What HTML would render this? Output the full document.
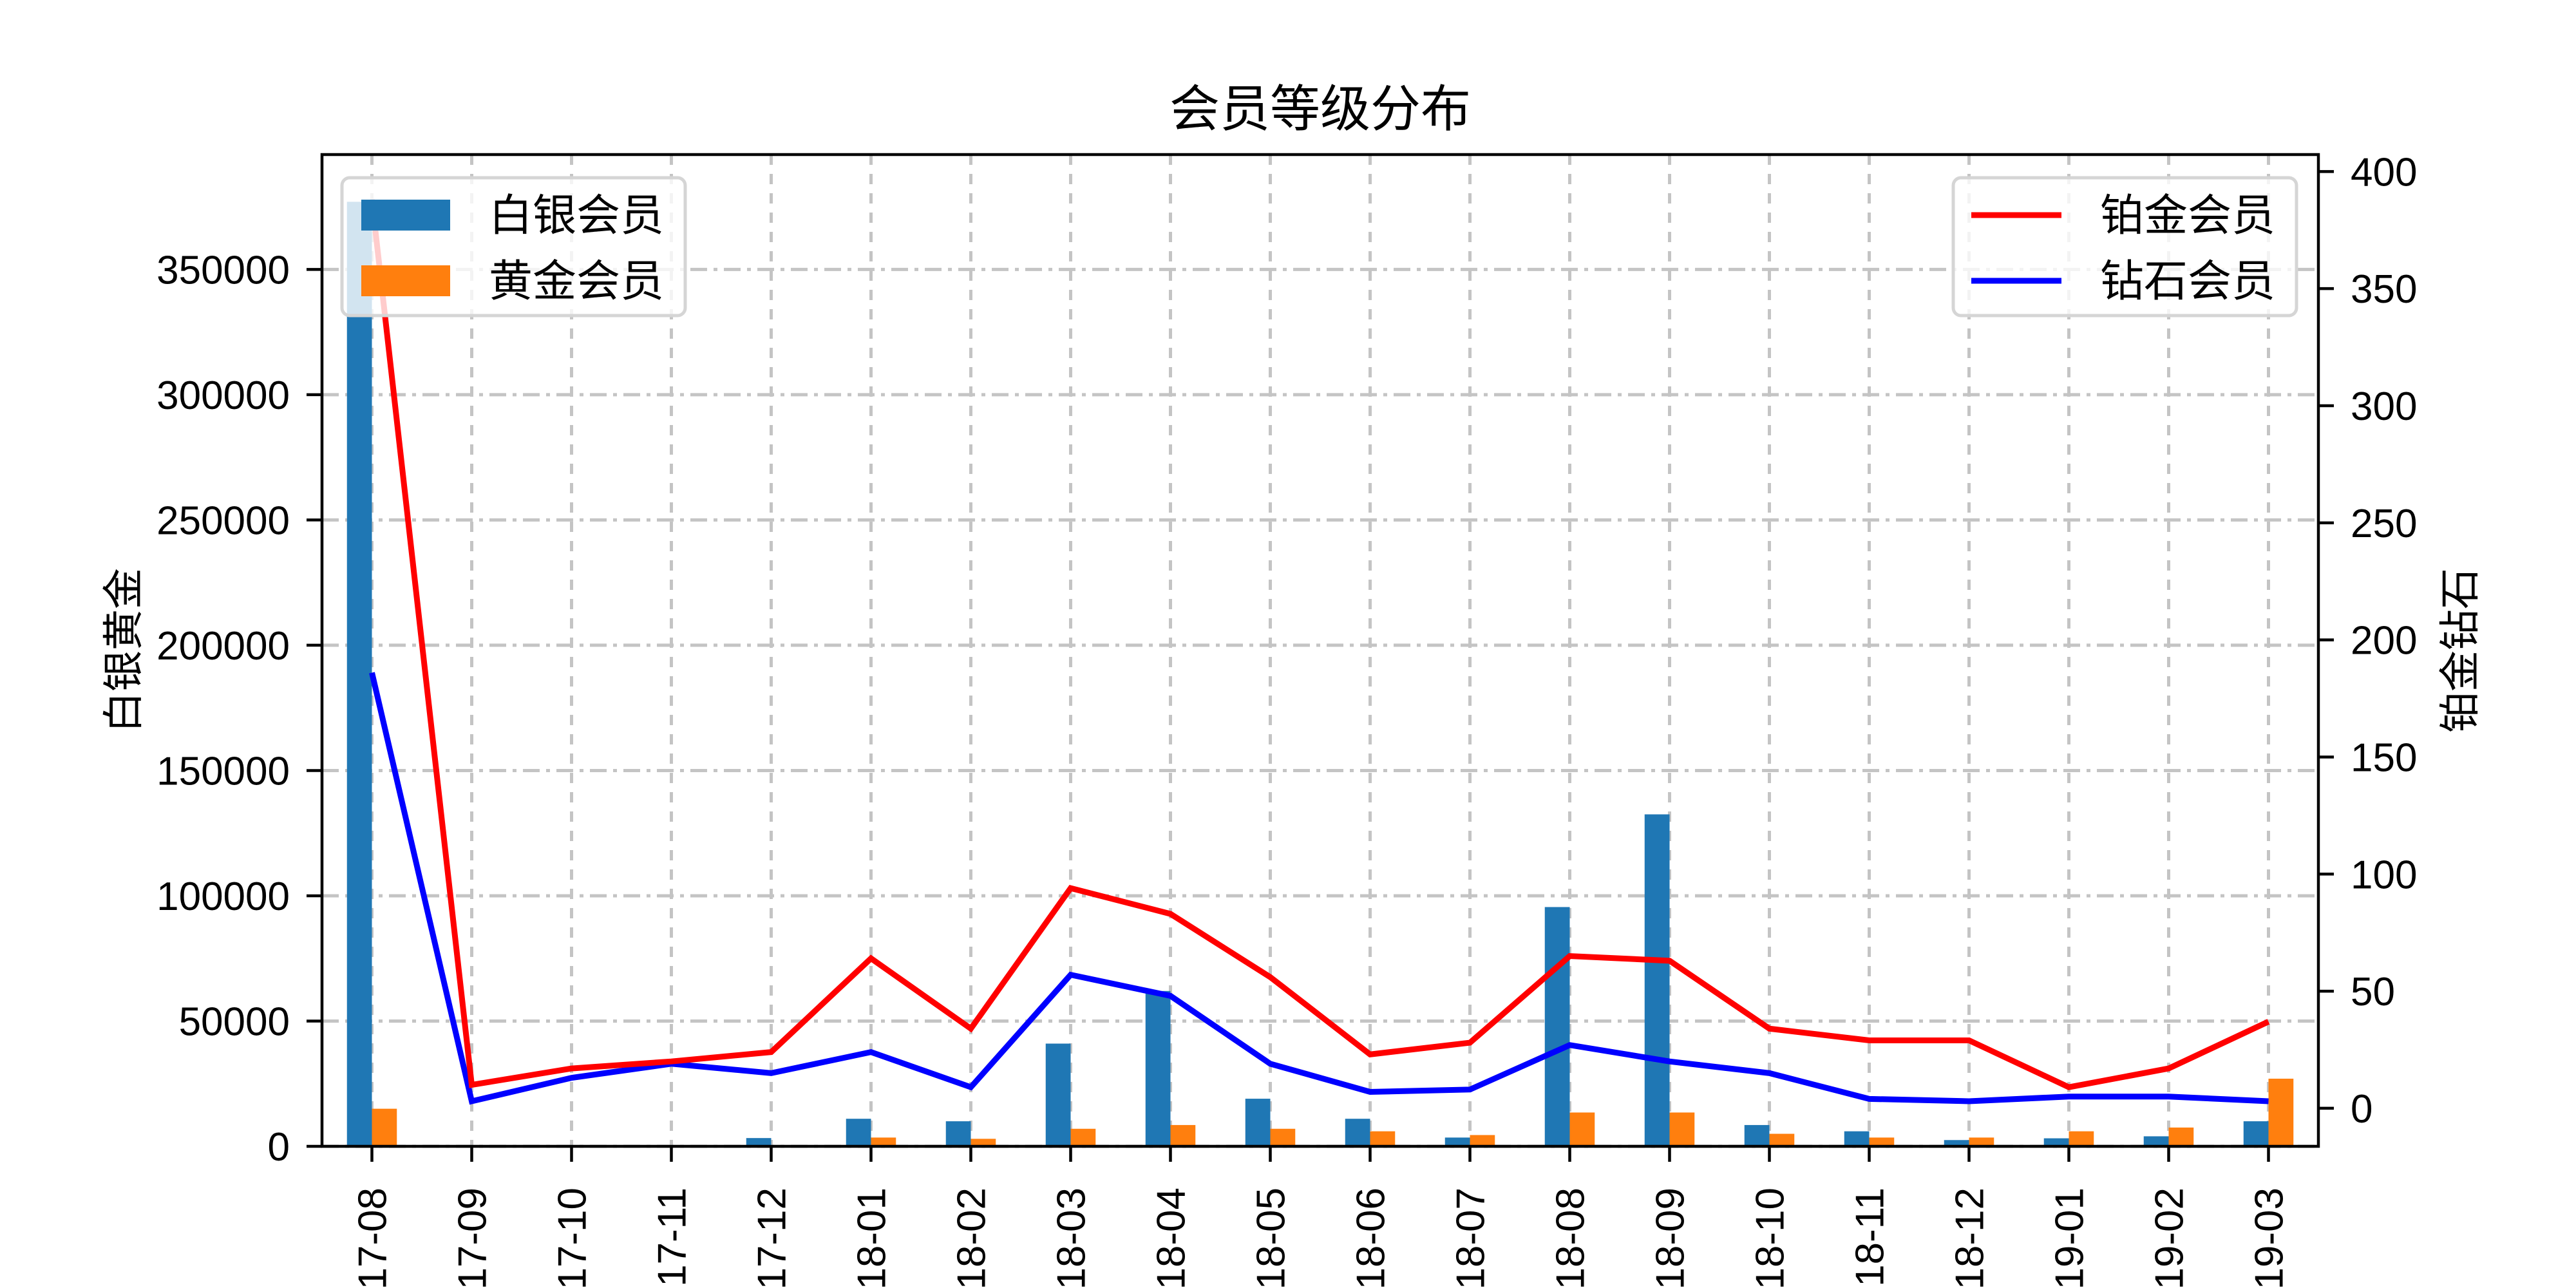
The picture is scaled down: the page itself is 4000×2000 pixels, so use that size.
<!DOCTYPE html>
<html><head><meta charset="utf-8"><style>
html,body{margin:0;padding:0;background:#fff;}
svg{display:block;font-family:"Liberation Sans","Noto Sans CJK SC",sans-serif;}
</style></head><body>
<svg id="chart" width="4000" height="2000" viewBox="0 0 4000 2000" xmlns="http://www.w3.org/2000/svg">
<rect width="4000" height="2000" fill="#fff"/>
<g id="grid"></g><g id="bars"></g><g id="lines"></g><g id="axes"></g><g id="legends"></g>
<text x="2050" y="196" font-size="78" text-anchor="middle">会员等级分布</text>
<text transform="translate(214,1010) rotate(-90)" font-size="64" text-anchor="middle">白银黄金</text>
<text transform="translate(3842,1010) rotate(-90)" font-size="64" text-anchor="middle">铂金钻石</text>
</svg>
<script>
const categories=["2017-08","2017-09","2017-10","2017-11","2017-12","2018-01","2018-02","2018-03","2018-04","2018-05","2018-06","2018-07","2018-08","2018-09","2018-10","2018-11","2018-12","2019-01","2019-02","2019-03"];
const silver=[377000,0,0,500,3300,11000,10000,41000,62000,19000,11000,3500,95500,132500,8500,6000,2500,3200,4000,10000];
const gold=[15000,0,0,0,0,3500,3000,7000,8500,7000,6000,4500,13500,13500,5000,3500,3500,6000,7500,27000];
const platinum=[388,10,17,20,24,64,34,94,83,56,23,28,65,63,34,29,29,9,17,37];
const diamond=[186,3,13,19,15,24,9,57,48,19,7,8,27,20,15,4,3,5,5,3];
const leftTicks=[0,50000,100000,150000,200000,250000,300000,350000];
const rightTicks=[0,50,100,150,200,250,300,350,400];

const L=500,R=3600,T=240,B=1780;
const NS="http://www.w3.org/2000/svg";
const lMax=Math.max(...silver,...gold)*1.05;
const rAll=platinum.concat(diamond);
const rMin0=Math.min(...rAll),rMax0=Math.max(...rAll),pad=(rMax0-rMin0)*0.05;
const rMin=rMin0-pad,rMax=rMax0+pad;
const n=categories.length;
const step=(R-L)/n;
function xs(i){return L+(0.5+i)*step;}
function yl(v){return B-(v/lMax)*(B-T);}
function yr(v){return B-(v-rMin)/(rMax-rMin)*(B-T);}
function mk(tag,attrs,parent){const e=document.createElementNS(NS,tag);for(const k in attrs)e.setAttribute(k,attrs[k]);parent.appendChild(e);return e;}
const grid=document.getElementById('grid'),bars=document.getElementById('bars'),lines=document.getElementById('lines'),axes=document.getElementById('axes'),legends=document.getElementById('legends');
const bw=0.25*step;
categories.forEach((c,i)=>{const g=mk('line',{x1:xs(i),x2:xs(i),y1:T,y2:B,stroke:'#c4c4c4','stroke-width':5,'stroke-dasharray':'16 14'},grid);

});
leftTicks.forEach(t=>{const g=mk('line',{x1:L,x2:R,y1:yl(t),y2:yl(t),stroke:'#c4c4c4','stroke-width':5,'stroke-dasharray':'26 10 6 10'},grid);

});
categories.forEach((c,i)=>{
 const b1=mk('rect',{x:xs(i)-bw,y:yl(silver[i]),width:bw,height:B-yl(silver[i]),fill:'#1f77b4'},bars);
 
 
 const b2=mk('rect',{x:xs(i),y:yl(gold[i]),width:bw,height:B-yl(gold[i]),fill:'#ff7f0e'},bars);
 
 
});
const pd=diamond.map((v,i)=>xs(i)+','+yr(v)).join(' ');
const ld=mk('polyline',{points:pd,fill:'none',stroke:'#0000ff','stroke-width':9,'stroke-linejoin':'miter'},lines);


const pp=platinum.map((v,i)=>xs(i)+','+yr(v)).join(' ');
const lp=mk('polyline',{points:pp,fill:'none',stroke:'#ff0000','stroke-width':9,'stroke-linejoin':'miter'},lines);


const fr=mk('rect',{x:L,y:T,width:R-L,height:B-T,fill:'none',stroke:'#000','stroke-width':4.5},axes);


leftTicks.forEach(t=>{const y=yl(t);
 mk('line',{x1:L-24,x2:L,y1:y,y2:y,stroke:'#000','stroke-width':4.5},axes);
 const tx=mk('text',{x:L-50,y:y+22,'font-size':62,'text-anchor':'end'},axes);tx.textContent=t;
 
 });
rightTicks.forEach(t=>{const y=yr(t);
 mk('line',{x1:R,x2:R+24,y1:y,y2:y,stroke:'#000','stroke-width':4.5},axes);
 const tx=mk('text',{x:R+50,y:y+22,'font-size':62},axes);tx.textContent=t;
 
 });
categories.forEach((c,i)=>{const x=xs(i);
 mk('line',{x1:x,x2:x,y1:B,y2:B+24,stroke:'#000','stroke-width':4.5},axes);
 const tx=mk('text',{transform:'translate('+(x+22)+','+(B+64)+') rotate(-90)','font-size':62,'text-anchor':'end'},axes);tx.textContent=c;
 
 });
function legend(x,y,w,items,name,isBar){
 const g=mk('g',{},legends);
 
 
 mk('rect',{x:x,y:y,width:w,height:214,rx:12,fill:'rgba(255,255,255,0.8)',stroke:'#d5d5d5','stroke-width':5},g);
 items.forEach((it,k)=>{const cy=y+58+k*102;
  if(isBar)mk('rect',{x:x+30,y:cy-24,width:138,height:48,fill:it[1]},g);
  else mk('line',{x1:x+28,x2:x+168,y1:cy,y2:cy,stroke:it[1],'stroke-width':9},g);
  const t=mk('text',{x:x+228,y:cy+24,'font-size':68},g);t.textContent=it[0];
  
  });
}
legend(531,276,533,[['白银会员','#1f77b4'],['黄金会员','#ff7f0e']],'left-legend',true);
legend(3033,276,533,[['铂金会员','#ff0000'],['钻石会员','#0000ff']],'right-legend',false);
</script>
</body></html>
